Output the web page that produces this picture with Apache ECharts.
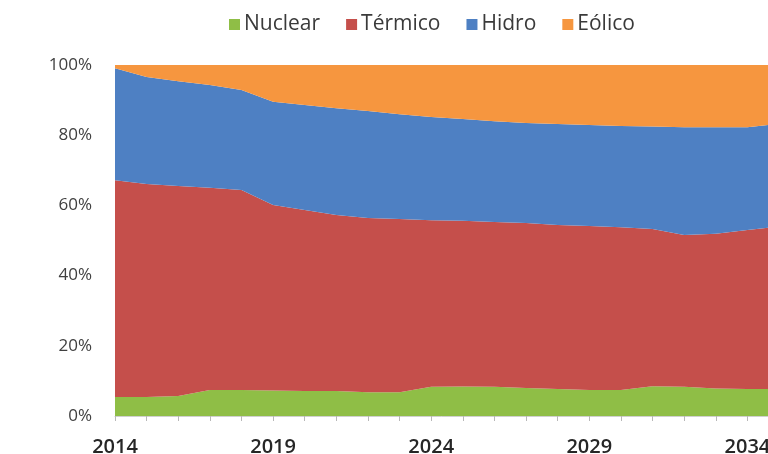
<!DOCTYPE html>
<html>
<head>
<meta charset="utf-8">
<script src="https://cdn.jsdelivr.net/npm/echarts@6/dist/echarts.min.js"></script>
<style>
  html, body { margin: 0; padding: 0; background: #fff; }
  #chart { width: 768px; height: 454px; }
</style>
</head>
<body>
<div id="chart"></div>
<script>
// Generation mix share by source (%), 2014–2035
const years = ['2014','2015','2016','2017','2018','2019','2020','2021','2022','2023','2024',
               '2025','2026','2027','2028','2029','2030','2031','2032','2033','2034','2035'];
const nuclear = [5.4, 5.4, 5.7, 7.4, 7.4, 7.3, 7.1, 7.1, 6.8, 6.8, 8.3,
                 8.4, 8.3, 8.0, 7.7, 7.4, 7.4, 8.5, 8.3, 7.8, 7.7, 7.7];
const termico = [61.8, 60.7, 59.8, 57.6, 57.0, 52.8, 51.6, 50.2, 49.6, 49.3, 47.5,
                 47.2, 47.0, 47.0, 46.7, 46.7, 46.4, 44.8, 43.3, 44.1, 45.3, 46.3];
const hidro = [31.9, 30.5, 29.9, 29.3, 28.5, 29.4, 29.9, 30.4, 30.5, 29.9, 29.4,
               29.0, 28.7, 28.5, 28.8, 28.8, 28.8, 29.2, 30.7, 30.4, 29.3, 29.2];
const eolico = [0.9, 3.4, 4.6, 5.7, 7.1, 10.5, 11.4, 12.3, 13.1, 14.0, 14.8,
                15.4, 16.0, 16.5, 16.8, 17.1, 17.4, 17.5, 17.7, 17.7, 17.7, 16.8];
const yTicks = [0, 20, 40, 60, 80, 100];

const colors = { nuclear: '#8fbe46', termico: '#c54f4b', hidro: '#4e80c3', eolico: '#f6963f' };

function areaSeries(name, data, color) {
  return {
    name: name,
    type: 'line',
    stack: 'mix',
    data: data,
    symbol: 'none',
    smooth: false,
    lineStyle: { width: 0 },
    itemStyle: { color: color },
    areaStyle: { color: color, opacity: 1 }
  };
}

const chart = echarts.init(document.getElementById('chart'), null, { renderer: 'canvas' });
chart.setOption({
  animation: false,
  backgroundColor: '#ffffff',
  textStyle: { fontFamily: '"Open Sans", sans-serif' },
  legend: {
    top: 9,
    left: 224,
    icon: 'rect',
    itemWidth: 11,
    itemHeight: 11,
    itemGap: 26,
    textStyle: { fontSize: 21, color: '#3a3a3a', fontFamily: '"Open Sans", sans-serif', padding: [0, 0, 0, -1] },
    data: ['Nuclear', 'Térmico', 'Hidro', 'Eólico']
  },
  grid: { left: 115, top: 65, bottom: 38, right: -11, containLabel: false, outerBoundsMode: 'none' },
  xAxis: {
    type: 'category',
    data: years,
    boundaryGap: false,
    axisLine: { show: true, lineStyle: { color: '#d0d0d0', width: 1 } },
    axisTick: { show: true, interval: 0, length: 5, lineStyle: { color: '#b8b8b8' } },
    axisLabel: {
      interval: 4,
      margin: 21,
      fontSize: 20,
      fontWeight: 600,
      color: '#262626',
      fontFamily: '"Open Sans", sans-serif'
    }
  },
  yAxis: {
    type: 'value',
    min: yTicks[0],
    max: yTicks[yTicks.length - 1],
    interval: 20,
    axisLine: { show: false },
    axisTick: { show: false },
    splitLine: { show: false },
    axisLabel: {
      formatter: '{value}%',
      margin: 23,
      fontSize: 17,
      color: '#404040',
      fontFamily: '"Open Sans", sans-serif'
    }
  },
  series: [
    areaSeries('Nuclear', nuclear, colors.nuclear),
    areaSeries('Térmico', termico, colors.termico),
    areaSeries('Hidro', hidro, colors.hidro),
    areaSeries('Eólico', eolico, colors.eolico)
  ]
});
</script>
</body>
</html>
